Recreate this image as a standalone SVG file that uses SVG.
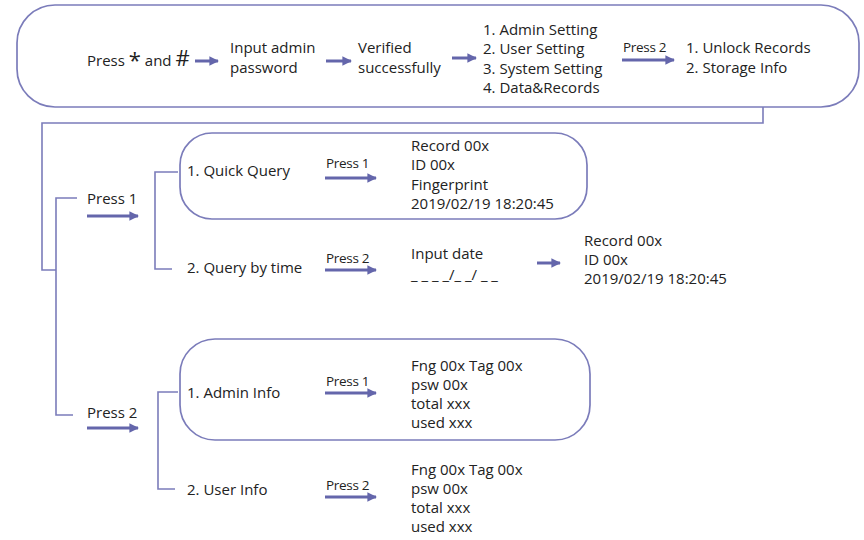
<svg xmlns="http://www.w3.org/2000/svg" width="864" height="540" viewBox="0 0 864 540">
<defs>
<marker id="ah" viewBox="0 0 10 10" refX="9" refY="5" markerWidth="3.2" markerHeight="3.2" markerUnits="strokeWidth" orient="auto">
<path d="M0,0 L10,5 L0,10 z" fill="#6466ab"/>
</marker>
<style>
text{font-family:"Open Sans","Noto Sans","Liberation Sans",sans-serif;font-size:15px;fill:#222}
.p{font-size:13.5px;letter-spacing:-0.3px}
.big{font-size:22px}
.box{fill:none;stroke:#7b7cba;stroke-width:1.7}
.ln{fill:none;stroke:#7b7cba;stroke-width:1.6}
.ar{fill:none;stroke:#6466ab;stroke-width:3;marker-end:url(#ah)}
</style>
</defs>
<rect width="864" height="540" fill="#fff"/>

<g id="connectors">
<path class="ln" d="M763,107 V123 H42 V270 H56"/>
<path class="ln" d="M77,198 H56 V415 H73"/>
<path class="ln" d="M178,172 H155 V269 H172"/>
<path class="ln" d="M178,392 H158 V489 H175"/>
<line class="ar" x1="195" y1="61" x2="218" y2="61"/>
<line class="ar" x1="326" y1="61" x2="351" y2="61"/>
<line class="ar" x1="452" y1="58" x2="476" y2="58"/>
<line class="ar" x1="622" y1="60" x2="674" y2="60"/>
<line class="ar" x1="87" y1="216" x2="138" y2="216"/>
<line class="ar" x1="87" y1="428" x2="138" y2="428"/>
<line class="ar" x1="325" y1="178" x2="376" y2="178"/>
<line class="ar" x1="325" y1="270" x2="376" y2="270"/>
<line class="ar" x1="537" y1="263" x2="560" y2="263"/>
<line class="ar" x1="325" y1="393" x2="376" y2="393"/>
<line class="ar" x1="325" y1="497" x2="376" y2="497"/>
</g>

<g id="top">
<rect class="box" x="17" y="5" width="842" height="102" rx="38" ry="38"/>
<text x="87" y="66">Press <tspan class="big" dy="2">*</tspan><tspan dy="-2"> and </tspan><tspan class="big" dy="0">#</tspan></text>
<text x="230" y="53">Input admin</text>
<text x="230" y="73">password</text>
<text x="358" y="53">Verified</text>
<text x="358" y="73">successfully</text>
<text x="483" y="35">1. Admin Setting</text>
<text x="483" y="54">2. User Setting</text>
<text x="483" y="74">3. System Setting</text>
<text x="483" y="93">4. Data&amp;Records</text>
<text class="p" x="623" y="52">Press 2</text>
<text x="686" y="53">1. Unlock Records</text>
<text x="686" y="73">2. Storage Info</text>
</g>

<g id="press1">
<text x="87" y="204">Press 1</text>
</g>

<g id="quickquery">
<rect class="box" x="180" y="133" width="407" height="86" rx="32" ry="32"/>
<text x="187" y="176">1. Quick Query</text>
<text class="p" x="326" y="168">Press 1</text>
<text x="411" y="151">Record 00x</text>
<text x="411" y="170">ID 00x</text>
<text x="411" y="190">Fingerprint</text>
<text x="411" y="209">2019/02/19 18:20:45</text>
</g>

<g id="querybytime">
<text x="187" y="273">2. Query by time</text>
<text class="p" x="326" y="263">Press 2</text>
<text x="411" y="259">Input date</text>
<text x="411" y="280">_ _ _ _/_ _/ _ _</text>
<text x="584" y="246">Record 00x</text>
<text x="584" y="265">ID 00x</text>
<text x="584" y="284">2019/02/19 18:20:45</text>
</g>

<g id="press2">
<text x="87" y="418">Press 2</text>
</g>

<g id="admininfo">
<rect class="box" x="180" y="339" width="410" height="101" rx="35" ry="35"/>
<text x="187" y="398">1. Admin Info</text>
<text class="p" x="326" y="386">Press 1</text>
<text x="411" y="371">Fng 00x Tag 00x</text>
<text x="411" y="390">psw 00x</text>
<text x="411" y="409">total xxx</text>
<text x="411" y="428">used xxx</text>
</g>

<g id="userinfo">
<text x="187" y="495">2. User Info</text>
<text class="p" x="326" y="490">Press 2</text>
<text x="411" y="475">Fng 00x Tag 00x</text>
<text x="411" y="494">psw 00x</text>
<text x="411" y="513">total xxx</text>
<text x="411" y="532">used xxx</text>
</g>
</svg>
